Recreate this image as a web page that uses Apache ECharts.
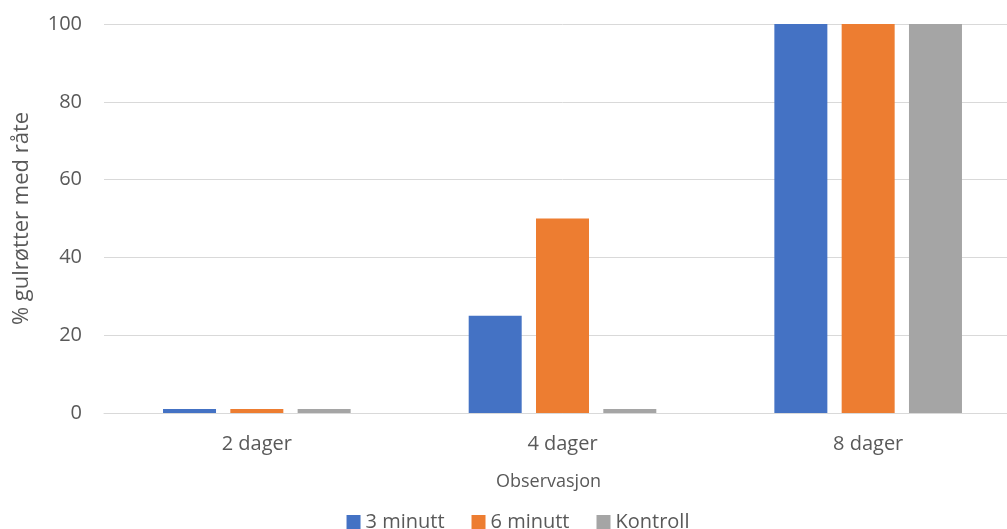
<!DOCTYPE html>
<html>
<head>
<meta charset="utf-8">
<script src="https://cdn.jsdelivr.net/npm/echarts@6/dist/echarts.min.js"></script>
<style>
  html, body { margin: 0; padding: 0; background: #fff; overflow: hidden; }
  #chart { width: 1036px; height: 529px; }
</style>
</head>
<body>
<div id="chart"></div>
<script>
const categories = ['2 dager', '4 dager', '8 dager'];
const seriesNames = ['3 minutt', '6 minutt', 'Kontroll'];
const minutt3 = [1, 25, 100];
const minutt6 = [1, 50, 100];
const kontroll = [1, 1, 100];
const yTicks = [0, 20, 40, 60, 80, 100];

const colors = ['#4472C4', '#ED7D31', '#A5A5A5'];
const values = [minutt3, minutt6, kontroll];
const font = '"Open Sans", "Noto Sans", sans-serif';
const textColor = '#595959';

const chart = echarts.init(document.getElementById('chart'));
chart.setOption({
  animation: false,
  color: colors,
  grid: { left: 104, top: 24, right: 15, height: 389, containLabel: false },
  legend: {
    top: 507,
    left: 'center',
    itemWidth: 14,
    itemHeight: 14,
    itemGap: 27,
    icon: 'rect',
    textStyle: { color: textColor, fontSize: 20, fontFamily: font, padding: [0, 0, 0, 0] },
    data: seriesNames
  },
  xAxis: {
    type: 'category',
    data: categories,
    name: 'Observasjon',
    nameLocation: 'middle',
    nameGap: 60,
    nameTextStyle: { color: textColor, fontSize: 18, fontFamily: font, padding: [0, 28, 0, 0] },
    axisLine: { lineStyle: { color: '#d9d9d9', width: 1 } },
    axisTick: { show: false },
    axisLabel: { color: textColor, fontSize: 20, fontFamily: font, margin: 21 }
  },
  yAxis: {
    type: 'value',
    min: yTicks[0],
    max: yTicks[yTicks.length - 1],
    interval: 20,
    name: '% gulrøtter med råte',
    nameLocation: 'middle',
    nameGap: 71,
    nameTextStyle: { color: textColor, fontSize: 22, fontFamily: font },
    axisLine: { show: false },
    axisTick: { show: false },
    splitLine: { lineStyle: { color: '#d9d9d9', width: 1 } },
    axisLabel: { color: textColor, fontSize: 20, fontFamily: font, margin: 22 }
  },
  series: seriesNames.map((name, i) => ({
    name: name,
    type: 'bar',
    data: values[i],
    barWidth: 53,
    barGap: '27%',
    itemStyle: { color: colors[i] }
  }))
});
</script>
</body>
</html>
